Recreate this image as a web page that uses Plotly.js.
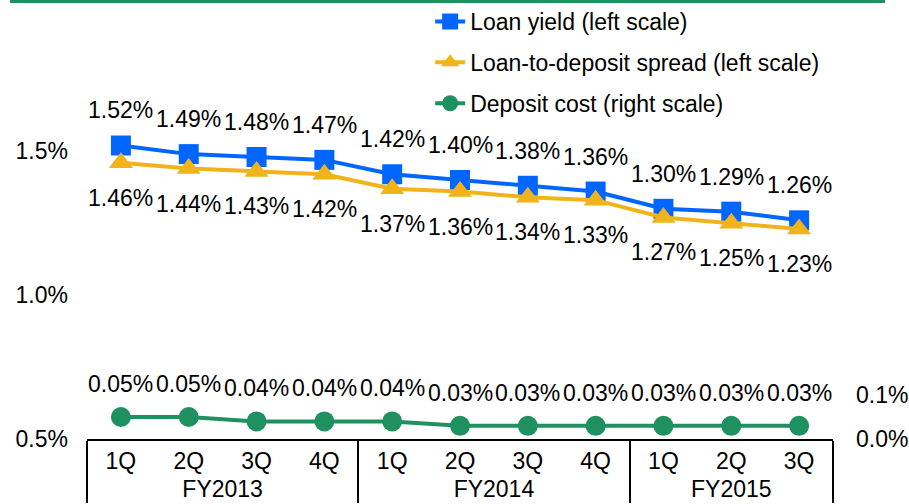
<!DOCTYPE html>
<html>
<head>
<meta charset="utf-8">
<script src="https://cdn.plot.ly/plotly-3.0.1.min.js"></script>
<style>html,body{margin:0;padding:0;background:#fff;}#chart{width:909px;height:504px;}</style>
</head>
<body>
<div id="chart"></div>
<script>
const fiscalYears = ['FY2013','FY2013','FY2013','FY2013','FY2014','FY2014','FY2014','FY2014','FY2015','FY2015','FY2015'];
const quarters = ['1Q','2Q','3Q','4Q','1Q','2Q','3Q','4Q','1Q','2Q','3Q'];
const loanYield = [1.52,1.49,1.48,1.47,1.42,1.40,1.38,1.36,1.30,1.29,1.26];
const loanDepositSpread = [1.46,1.44,1.43,1.42,1.37,1.36,1.34,1.33,1.27,1.25,1.23];
const depositCost = [0.05,0.05,0.04,0.04,0.04,0.03,0.03,0.03,0.03,0.03,0.03];
const leftTicks = [0.5,1.0,1.5];
const rightTicks = [0.0,0.1];

const BLUE = '#0066FF', GOLD = '#F0B41A', GREEN = '#1F9160';
const FONT = 'Arial, "Liberation Sans", sans-serif';
const FS = 23;
const x = [fiscalYears, quarters];

const traces = [
  {x, y: loanYield, name: 'Loan yield (left scale)', type: 'scatter', mode: 'lines+markers',
   line: {color: BLUE, width: 4}, marker: {symbol: 'square', size: 20, color: BLUE}, legendgroup: 'a', cliponaxis: false},
  {x, y: loanDepositSpread, name: 'Loan-to-deposit spread (left scale)', type: 'scatter', mode: 'lines+markers',
   line: {color: GOLD, width: 4}, marker: {symbol: 'triangle-up', size: 21, color: GOLD}, legendgroup: 'b', cliponaxis: false},
  {x, y: depositCost, name: 'Deposit cost (right scale)', type: 'scatter', mode: 'lines+markers', yaxis: 'y2',
   line: {color: GREEN, width: 4}, marker: {symbol: 'circle', size: 20, color: GREEN}, legendgroup: 'c', cliponaxis: false}
];

const annotations = [];
loanYield.forEach((v, i) => annotations.push({x: i, y: v, xref: 'x', yref: 'y', text: v.toFixed(2) + '%', showarrow: false, yshift: 35, font: {family: FONT, size: FS, color: '#000'}}));
loanDepositSpread.forEach((v, i) => annotations.push({x: i, y: v, xref: 'x', yref: 'y', text: v.toFixed(2) + '%', showarrow: false, yshift: -35, font: {family: FONT, size: FS, color: '#000'}}));
depositCost.forEach((v, i) => annotations.push({x: i, y: v, xref: 'x', yref: 'y2', text: v.toFixed(2) + '%', showarrow: false, yshift: 33, font: {family: FONT, size: FS, color: '#000'}}));

const layout = {
  width: 909, height: 504,
  margin: {l: 87, r: 76, t: 0, b: 65},
  paper_bgcolor: '#fff', plot_bgcolor: '#fff',
  font: {family: FONT, size: FS, color: '#000'},
  showlegend: true,
  legend: {x: 0.46, y: 1, xanchor: 'left', yanchor: 'top', bgcolor: 'rgba(0,0,0,0)', tracegroupgap: 8, traceorder: 'grouped', font: {family: FONT, size: FS, color: '#000'}},
  xaxis: {type: 'multicategory', range: [-0.5, 10.5], autorange: false, showline: true, linecolor: '#000', linewidth: 2, showgrid: false, zeroline: false, ticks: '', showdividers: true, dividercolor: '#000', dividerwidth: 2, tickfont: {family: FONT, size: FS, color: '#000'}},
  yaxis: {range: [0.5, 2.0256], autorange: false, tickvals: leftTicks, ticktext: leftTicks.map(v => v.toFixed(1) + '%'), showgrid: false, zeroline: false, showline: false, ticks: '', ticklabelstandoff: 18, tickfont: {family: FONT, size: FS, color: '#000'}},
  yaxis2: {range: [0, 1.0], autorange: false, overlaying: 'y', side: 'right', tickvals: rightTicks, ticktext: rightTicks.map(v => v.toFixed(1) + '%'), showgrid: false, zeroline: false, showline: false, ticks: '', ticklabelstandoff: 22, tickfont: {family: FONT, size: FS, color: '#000'}},
  shapes: [{type: 'line', xref: 'paper', yref: 'paper', x0: -0.1032, x1: 1.0697, y0: 0.9966, y1: 0.9966, line: {color: GREEN, width: 3}}],
  annotations
};

Plotly.newPlot('chart', traces, layout, {displayModeBar: false, staticPlot: true});
</script>
</body>
</html>
